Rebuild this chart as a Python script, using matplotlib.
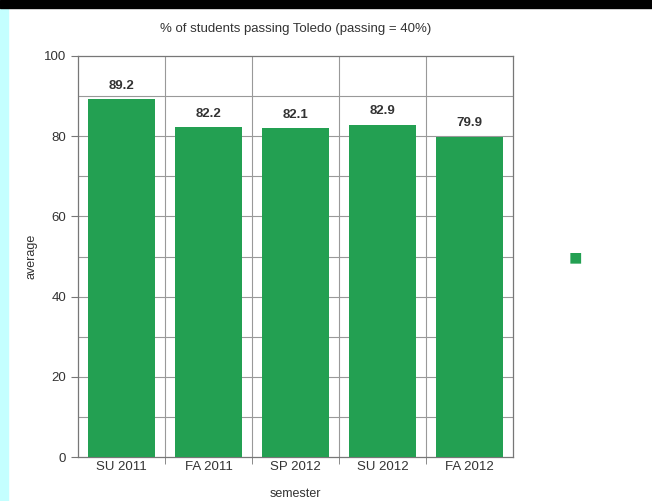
import numpy as np
import matplotlib
matplotlib.use("Agg")
import matplotlib.pyplot as plt
from matplotlib.patches import Rectangle

# Data
semesters = ["SU 2011", "FA 2011", "SP 2012", "SU 2012", "FA 2012"]
average = [89.2, 82.2, 82.1, 82.9, 79.9]

plt.rcParams['font.family'] = ['Liberation Sans', 'DejaVu Sans']

fig = plt.figure(figsize=(6.52, 5.01), dpi=100)
fig.patch.set_facecolor('white')

# cyan strip on the left and black band on top
fig.add_artist(Rectangle((0, 0), 8/652, 1, transform=fig.transFigure, color='#c4ffff', zorder=0))
fig.add_artist(Rectangle((0, 1 - 8/501), 1, 8/501, transform=fig.transFigure, color='black', zorder=1))

ax = fig.add_axes([78/652, 44/501, 435/652, 401/501])
x = np.arange(len(semesters))

# grid behind the bars
for g in range(10, 100, 10):
    ax.axhline(g, color='#999999', linewidth=0.8, zorder=1)
for b in x[:-1] + 0.5:
    ax.axvline(b, color='#999999', linewidth=0.8, zorder=1)

bars = ax.bar(x, average, width=0.77, color='#23a052', zorder=3)

for xi, v in zip(x, average):
    ax.text(xi, v + 1.8, "%.1f" % v, ha='center', va='bottom', fontsize=9.5,
            fontweight='bold', color='#333333', zorder=4)

ax.set_xlim(-0.5, len(semesters) - 0.5)
ax.set_ylim(0, 100)
ax.set_yticks(np.arange(0, 101, 20))
ax.set_xticks(x)
ax.set_xticklabels(semesters)
ax.set_xticks(x[:-1] + 0.5, minor=True)

ax.tick_params(axis='y', which='major', length=5, color='#777777', labelsize=9.5, labelcolor='#333333')
ax.tick_params(axis='x', which='major', length=0, labelsize=9.5, labelcolor='#333333', pad=3)
ax.tick_params(axis='x', which='minor', length=5, color='#777777')
for s in ax.spines.values():
    s.set_color('#777777')
    s.set_linewidth(0.9)

ax.set_xlabel("semester", fontsize=9, color='#333333', labelpad=10.5)
ax.set_ylabel("average", fontsize=9, color='#333333', labelpad=4.5)
ax.set_title("% of students passing Toledo (passing = 40%)", fontsize=9.5, color='#333333', pad=17.5)

# legend marker on the right
fig.text(575/652, 1 - 259/501, "\u25a0", color='#23a052', fontsize=16, ha='center', va='center')

plt.savefig("out.png", dpi=100)
